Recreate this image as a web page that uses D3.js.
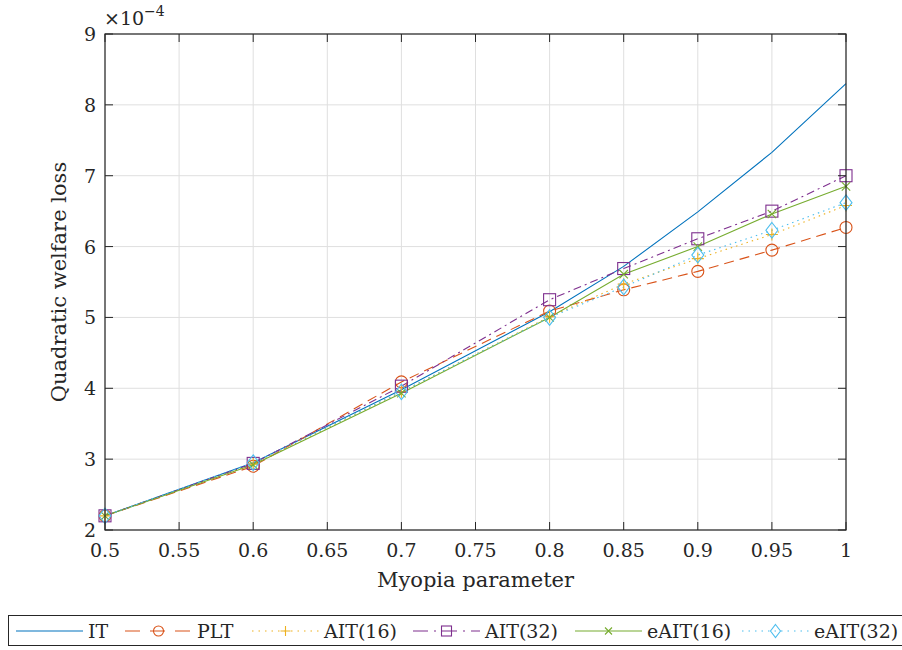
<!DOCTYPE html>
<html><head><meta charset="utf-8">
<script src="https://cdn.jsdelivr.net/npm/d3@7"></script>
<style>body{margin:0;background:#fff}svg{display:block}</style>
</head><body><svg id="c" width="902" height="650" font-family="'DejaVu Serif', 'Liberation Serif', serif"></svg>
<script>
const xVals = [0.5, 0.6, 0.7, 0.8, 0.85, 0.9, 0.95, 1.0];
const IT = [2.2, 2.95, 3.98, 5.08, 5.72, 6.49, 7.33, 8.3];
const PLT = [2.2, 2.9, 4.09, 5.09, 5.39, 5.65, 5.95, 6.27];
const AIT16 = [2.2, 2.93, 3.95, 5.01, 5.47, 5.83, 6.17, 6.58];
const AIT32 = [2.2, 2.94, 4.03, 5.25, 5.69, 6.11, 6.5, 7.0];
const eAIT16 = [2.2, 2.92, 3.93, 5.0, 5.61, 6.0, 6.46, 6.85];
const eAIT32 = [2.2, 2.95, 3.95, 5.0, 5.43, 5.88, 6.23, 6.62];
const xTicks = [0.5, 0.55, 0.6, 0.65, 0.7, 0.75, 0.8, 0.85, 0.9, 0.95, 1];
const yTicks = [2, 3, 4, 5, 6, 7, 8, 9];
const seriesNames = ["IT", "PLT", "AIT(16)", "AIT(32)", "eAIT(16)", "eAIT(32)"];
const seriesData = [IT, PLT, AIT16, AIT32, eAIT16, eAIT32];
const colors = ["#0072BD", "#D95319", "#EDB120", "#7E2F8E", "#77AC30", "#4DBEEE"];
const dashes = [null, "10,6", "1.5,4", "8,4,2,4", null, "1.5,4"];
const legDashes = [null, "15,10", "1.5,5", "15,6,2,6", null, "1.5,5"];
const markers = [null, "circle", "plus", "square", "cross", "diamond"];

const svg = d3.select("#c");
const L = 105, R = 846, T = 34, B = 530;
const x = d3.scaleLinear().domain([0.5, 1]).range([L, R]);
const y = d3.scaleLinear().domain([2, 9]).range([B, T]);
const ink = "#262626";

// grid
const g = svg.append("g");
g.selectAll(".gx").data(xTicks).enter().append("line")
  .attr("x1", d => x(d)).attr("x2", d => x(d)).attr("y1", T).attr("y2", B)
  .attr("stroke", "#dfdfdf").attr("stroke-width", 1);
g.selectAll(".gy").data(yTicks).enter().append("line")
  .attr("y1", d => y(d)).attr("y2", d => y(d)).attr("x1", L).attr("x2", R)
  .attr("stroke", "#dfdfdf").attr("stroke-width", 1);

// lines
const line = d3.line().x((d, i) => x(xVals[i])).y(d => y(d));
seriesData.forEach((s, k) => {
  const p = svg.append("path").attr("d", line(s)).attr("fill", "none")
    .attr("stroke", colors[k]).attr("stroke-width", 1.1);
  if (dashes[k]) p.attr("stroke-dasharray", dashes[k]);
});

function drawMarker(sel, type, cx, cy, color, s) {
  if (type === "circle") sel.append("circle").attr("cx", cx).attr("cy", cy).attr("r", s).attr("fill", "none").attr("stroke", color).attr("stroke-width", 1.1);
  else if (type === "square") sel.append("rect").attr("x", cx - s).attr("y", cy - s).attr("width", 2 * s).attr("height", 2 * s).attr("fill", "none").attr("stroke", color).attr("stroke-width", 1.1);
  else if (type === "plus") sel.append("path").attr("d", `M${cx - s},${cy}H${cx + s}M${cx},${cy - s}V${cy + s}`).attr("stroke", color).attr("stroke-width", 1.1);
  else if (type === "cross") sel.append("path").attr("d", `M${cx - s * 0.7},${cy - s * 0.7}L${cx + s * 0.7},${cy + s * 0.7}M${cx - s * 0.7},${cy + s * 0.7}L${cx + s * 0.7},${cy - s * 0.7}`).attr("stroke", color).attr("stroke-width", 1.1);
  else if (type === "diamond") sel.append("path").attr("d", `M${cx},${cy - s * 1.3}L${cx + s},${cy}L${cx},${cy + s * 1.3}L${cx - s},${cy}Z`).attr("fill", "none").attr("stroke", color).attr("stroke-width", 1.1);
}
seriesData.forEach((s, k) => {
  if (!markers[k]) return;
  const mg = svg.append("g");
  s.forEach((v, i) => drawMarker(mg, markers[k], x(xVals[i]), y(v), colors[k], 6));
});

// axes box and ticks
const ax = svg.append("g");
ax.append("rect").attr("x", L).attr("y", T).attr("width", R - L).attr("height", B - T)
  .attr("fill", "none").attr("stroke", ink).attr("stroke-width", 1.2);
xTicks.forEach(t => {
  ax.append("line").attr("x1", x(t)).attr("x2", x(t)).attr("y1", B).attr("y2", B - 8).attr("stroke", ink);
  ax.append("line").attr("x1", x(t)).attr("x2", x(t)).attr("y1", T).attr("y2", T + 8).attr("stroke", ink);
  ax.append("text").attr("x", x(t)).attr("y", B + 27).attr("text-anchor", "middle").attr("font-size", 19).attr("fill", ink).text(t);
});
yTicks.forEach(t => {
  ax.append("line").attr("y1", y(t)).attr("y2", y(t)).attr("x1", L).attr("x2", L + 8).attr("stroke", ink);
  ax.append("line").attr("y1", y(t)).attr("y2", y(t)).attr("x1", R).attr("x2", R - 8).attr("stroke", ink);
  ax.append("text").attr("x", L - 9).attr("y", y(t) + 7).attr("text-anchor", "end").attr("font-size", 19).attr("fill", ink).text(t);
});
const ex = ax.append("text").attr("x", L - 1).attr("y", 25).attr("font-size", 19).attr("fill", ink);
ex.append("tspan").text("\u00d710");
ex.append("tspan").attr("dy", -9).attr("font-size", 14).text("\u22124");

svg.append("text").attr("x", (L + R) / 2).attr("y", 587).attr("text-anchor", "middle").attr("font-size", 21).attr("fill", ink).text("Myopia parameter");
svg.append("text").attr("transform", `translate(66,${(T + B) / 2}) rotate(-90)`).attr("text-anchor", "middle").attr("font-size", 21).attr("fill", ink).text("Quadratic welfare loss");

// legend
const lg = svg.append("g");
lg.append("rect").attr("x", 8.5).attr("y", 615.5).attr("width", 894).attr("height", 30).attr("fill", "#fff").attr("stroke", ink).attr("stroke-width", 1);
const legX = [16, 125, 252, 413, 575, 742];
const legW = 67;
const ly = 631;
seriesNames.forEach((n, k) => {
  const l = lg.append("line").attr("x1", legX[k]).attr("x2", legX[k] + legW).attr("y1", ly).attr("y2", ly)
    .attr("stroke", colors[k]).attr("stroke-width", 1.1);
  if (legDashes[k]) l.attr("stroke-dasharray", legDashes[k]);
  if (markers[k]) drawMarker(lg, markers[k], legX[k] + legW / 2, ly, colors[k], 5);
  lg.append("text").attr("x", legX[k] + legW + 5).attr("y", ly + 7).attr("font-size", 19).attr("fill", ink).text(n);
});
</script></body></html>
